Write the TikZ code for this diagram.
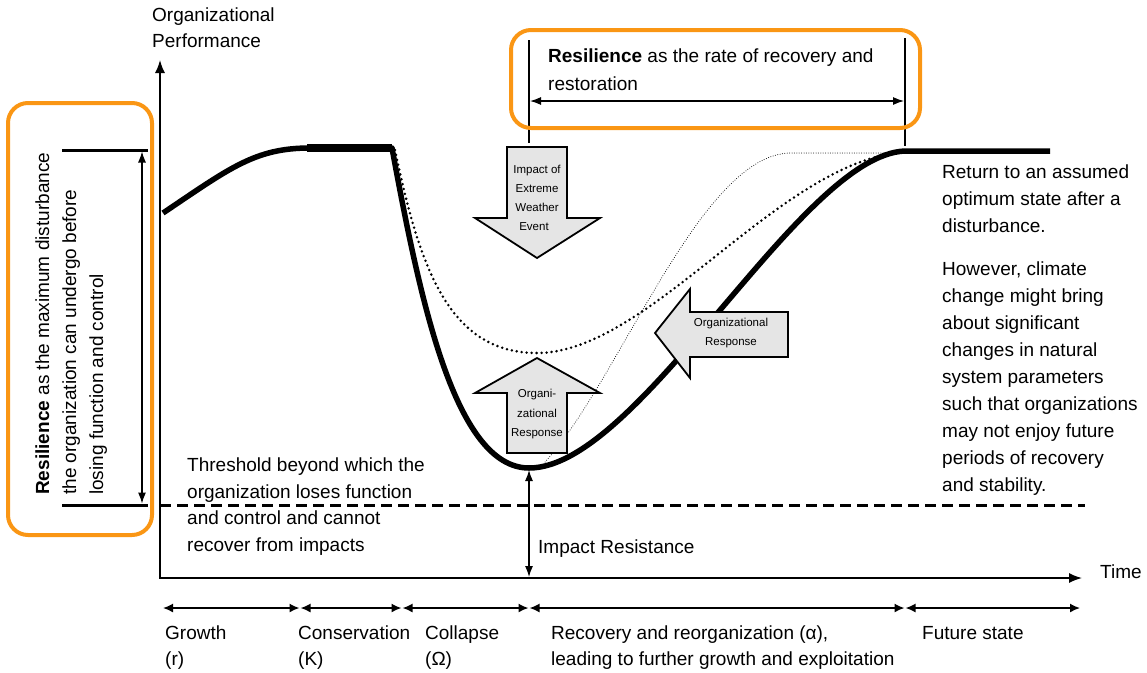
\documentclass[tikz,border=0pt]{standalone}
\usepackage{fontspec}
\setmainfont{Liberation Sans}
\usetikzlibrary{arrows.meta}
\definecolor{hlorange}{RGB}{250,150,20}
\definecolor{arrowfill}{RGB}{229,229,229}
\begin{document}
\begin{tikzpicture}[x=1pt,y=-1pt,
  txt/.style={font=\fontsize{19}{23}\selectfont, inner sep=0pt, anchor=base west},
  small/.style={font=\fontsize{11.5}{14}\selectfont, inner sep=0pt, anchor=base},
  axis/.style={line width=1.5pt, {Latex[length=13pt,width=10pt]}-{Latex[length=13pt,width=10pt]}},
  dim/.style={line width=1.2pt, {Latex[length=11pt,width=8pt]}-{Latex[length=11pt,width=8pt]}},
  curve/.style={line width=5.5pt, line join=round},
  dotthick/.style={line width=2.8pt, line cap=round, dash pattern=on 0pt off 5pt},
  dotthin/.style={line width=1pt, line cap=round, dash pattern=on 0pt off 2.4pt},
  blockarrow/.style={draw=black, fill=arrowfill, line width=1.8pt, line join=miter},
  hlbox/.style={draw=hlorange, line width=4pt, rounded corners=20pt},
  thresh/.style={line width=3pt, dash pattern=on 11pt off 6pt},
  tl/.style={line width=1.6pt, {Latex[length=10pt,width=9pt]}-{Latex[length=10pt,width=9pt]}}
]
\useasboundingbox (0,0) rectangle (1147,672);

% axes
\coordinate (ytop) at (160,60);
\coordinate (origin) at (160,578);
\coordinate (xend) at (1082,578);
\draw[axis] (ytop) -- (origin) -- (xend);
\node[txt] (ylab1) at (152,21) {Organizational};
\node[txt] (ylab2) at (152,47) {Performance};
\node[txt] (xlab) at (1100,578) {Time};

% threshold
\coordinate (thrL) at (160,505);
\coordinate (thrR) at (1085,505);
\draw[thresh] (thrL) -- (thrR);

% curves
\draw[dotthick] (395,150) .. controls (420,270) and (450,353) .. (537,353) .. controls (650,353) and (780,160) .. (905,152);
\draw[dotthin] (545,462) .. controls (620,380) and (700,155) .. (790,153) -- (905,153);
\draw[curve] (163,213) .. controls (230,168) and (255,148) .. (310,148) -- (392,148) .. controls (420,300) and (455,468) .. (529,468) .. controls (640,468) and (800,155) .. (905,151) -- (1050,151);
\draw[line width=7.5pt] (307,148) -- (392,148);

% block arrows
\draw[blockarrow] (507,147) -- (567,147) -- (567,218) -- (600,218) -- (537,258) -- (475,218) -- (507,218) -- cycle;
\node[small] (imp1) at (537,173) {Impact of};
\node[small] (imp2) at (537,192) {Extreme};
\node[small] (imp3) at (537,211) {Weather};
\node[small] (imp4) at (534,230) {Event};

\draw[blockarrow] (537,358) -- (600,393) -- (567,393) -- (567,453) -- (507,453) -- (507,393) -- (475,393) -- cycle;
\node[small] (up1) at (537,397) {Organi-};
\node[small] (up2) at (537,417) {zational};
\node[small] (up3) at (537,436) {Response};

\draw[blockarrow] (655,333) -- (690,289) -- (690,312) -- (788,312) -- (788,357) -- (690,357) -- (690,378) -- cycle;
\node[small] (lr1) at (731,326) {Organizational};
\node[small] (lr2) at (731,345) {Response};

% impact resistance
\coordinate (irTop) at (529,470);
\coordinate (irBot) at (529,577);
\draw[dim] (irTop) -- (irBot);
\node[txt] (irlab) at (538,553) {Impact Resistance};

% top resilience
\coordinate (rA1) at (529,40);
\coordinate (rA2) at (529,143);
\coordinate (rB1) at (905,38);
\coordinate (rB2) at (905,146);
\draw[line width=1.8pt] (rA1) -- (rA2);
\draw[line width=2.8pt] (rB1) -- (rB2);
\coordinate (rdL) at (530,101);
\coordinate (rdR) at (904,101);
\draw[dim] (rdL) -- (rdR);
\node[txt] (rt1) at (548,62) {\textbf{Resilience} as the rate of recovery and};
\node[txt] (rt2) at (548,90) {restoration};
\draw[hlbox] (511,30) rectangle (920,128);

% left resilience
\coordinate (lhT1) at (62,150);
\coordinate (lhT2) at (148,150);
\coordinate (lhB1) at (62,505);
\coordinate (lhB2) at (148,505);
\draw[line width=3pt] (lhT1) -- (lhT2);
\draw[line width=3pt] (lhB1) -- (lhB2);
\coordinate (ldT) at (142,151.5);
\coordinate (ldB) at (142,503.5);
\draw[dim] (ldT) -- (ldB);
\node[txt, rotate=90] (lt1) at (49,495) {\textbf{Resilience} as the maximum disturbance};
\node[txt, rotate=90] (lt2) at (76,495) {the organization can undergo before};
\node[txt, rotate=90] (lt3) at (103,495) {losing function and control};
\draw[hlbox] (8,103) rectangle (152,535);

% threshold text
\node[txt] (th1) at (187,471) {Threshold beyond which the};
\node[txt] (th2) at (187,498) {organization loses function};
\node[txt] (th3) at (187,524) {and control and cannot};
\node[txt] (th4) at (187,551) {recover from impacts};

% right text
\node[txt] (rr1) at (942,178) {Return to an assumed};
\node[txt] (rr2) at (942,205) {optimum state after a};
\node[txt] (rr3) at (942,232) {disturbance.};
\node[txt] (rr4) at (942,275) {However, climate};
\node[txt] (rr5) at (942,302) {change might bring};
\node[txt] (rr6) at (942,329) {about significant};
\node[txt] (rr7) at (942,356) {changes in natural};
\node[txt] (rr8) at (942,383) {system parameters};
\node[txt] (rr9) at (942,410) {such that organizations};
\node[txt] (rr10) at (942,437) {may not enjoy future};
\node[txt] (rr11) at (942,464) {periods of recovery};
\node[txt] (rr12) at (942,491) {and stability.};

% timeline
\coordinate (t0) at (163,608);
\coordinate (t1) at (300,608);
\coordinate (t2) at (402,608);
\coordinate (t3) at (529,608);
\coordinate (t4) at (905,608);
\coordinate (t5) at (1080,608);
\draw[tl] (t0) -- ([xshift=-0.5pt]t1);
\draw[tl] ([xshift=0.5pt]t1) -- ([xshift=-0.5pt]t2);
\draw[tl] ([xshift=0.5pt]t2) -- ([xshift=-0.5pt]t3);
\draw[tl] ([xshift=0.5pt]t3) -- ([xshift=-0.5pt]t4);
\draw[tl] ([xshift=0.5pt]t4) -- (t5);
\node[txt] (p1a) at (165,639) {Growth};
\node[txt] (p1b) at (165,665) {(r)};
\node[txt] (p2a) at (298,639) {Conservation};
\node[txt] (p2b) at (298,665) {(K)};
\node[txt] (p3a) at (425,639) {Collapse};
\node[txt] (p3b) at (425,665) {(Ω)};
\node[txt] (p4a) at (551,639) {Recovery and reorganization (α),};
\node[txt] (p4b) at (551,665) {leading to further growth and exploitation};
\node[txt] (p5a) at (922,639) {Future state};
\end{tikzpicture}
\end{document}
